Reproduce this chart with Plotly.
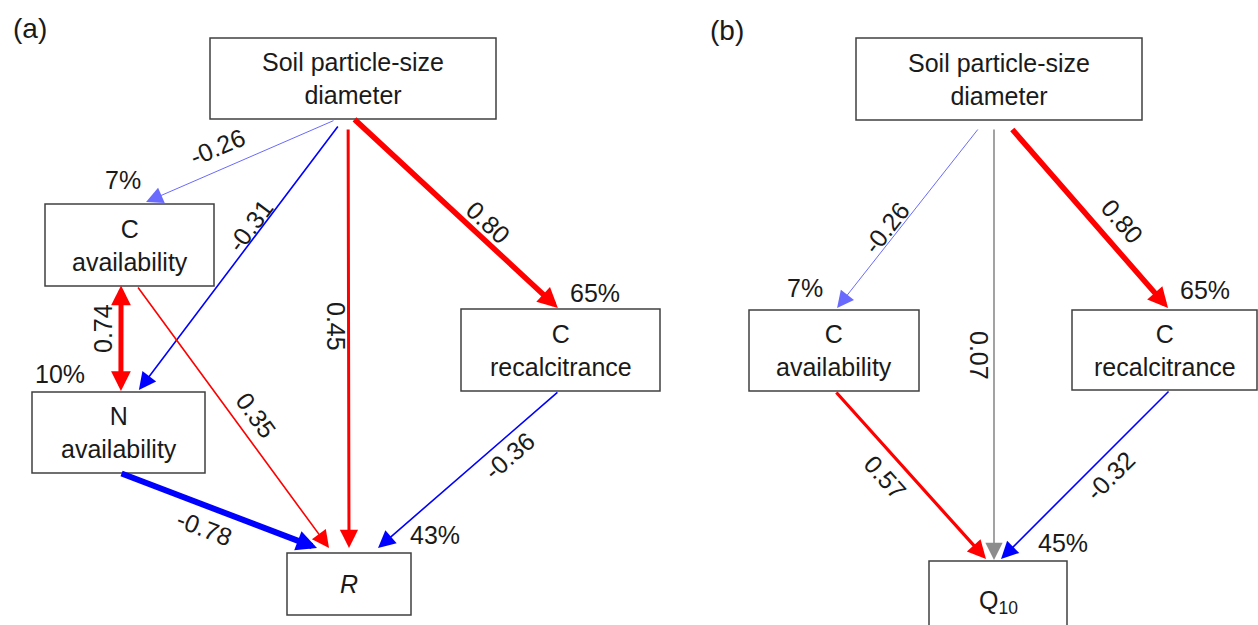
import math
import plotly.graph_objects as go

# ---------------- data ----------------
panel_labels = ["(a)", "(b)"]

# panel (a)
nodes_a = ["soil", "cav", "nav", "crec", "R"]
node_text_a = ["Soil particle-size<br>diameter", "C<br>availability", "N<br>availability",
               "C<br>recalcitrance", "<i>R</i>"]
r2_a = ["", "7%", "10%", "65%", "43%"]
edge_src_a = ["soil", "soil", "soil", "soil", "cav", "cav", "nav", "crec"]
edge_dst_a = ["cav", "nav", "R", "crec", "nav", "R", "R", "R"]
coef_a = [-0.26, -0.31, 0.45, 0.80, 0.74, 0.35, -0.78, -0.36]

# panel (b)
nodes_b = ["soil", "cav", "crec", "Q"]
node_text_b = ["Soil particle-size<br>diameter", "C<br>availability", "C<br>recalcitrance",
               "Q<sub>10</sub>"]
r2_b = ["", "7%", "65%", "45%"]
edge_src_b = ["soil", "soil", "soil", "cav", "crec"]
edge_dst_b = ["cav", "Q", "crec", "Q", "Q"]
coef_b = [-0.26, 0.07, 0.80, 0.57, -0.32]

# ---------------- layout (positions / styles) ----------------
W, H = 1258, 625
FONT = "Liberation Sans, Arial, sans-serif"
TXT = "#1a1a1a"
FS = 25

boxes_a = {"soil": (210, 38, 496, 119), "cav": (45, 204, 214, 286), "nav": (32, 392, 205, 473),
           "crec": (461, 309, 660, 391), "R": (287, 553, 411, 615)}
boxes_b = {"soil": (856, 38, 1142, 120), "cav": (749, 310, 919, 391),
           "crec": (1072, 310, 1257, 390), "Q": (929, 561, 1067, 643)}

# (fraction along source bottom, gap below, fraction along target top, gap above)
anch_a = [(0.437, 1, 0.598, 2), (0.451, 6, 0.618, 2), (0.483, 9, 0.50, 5), (0.50, -1, 0.487, 1),
          (0.45, -2, 0.514, 1), (0.544, 0, 0.339, 5), (0.509, 0, 0.242, 5), (0.492, 0, 0.734, 5)]
anch_b = [(0.43, 8, 0.518, 2), (0.4825, 8, 0.471, 1), (0.542, 8, 0.519, 2),
          (0.506, 0, 0.413, 2), (0.53, 0, 0.522, 2)]

RED, BLUE, LBLUE, GRAY = "#ff0000", "#0000ff", "#6a6aff", "#8c8c8c"
col_a = [LBLUE, BLUE, RED, RED, RED, RED, BLUE, BLUE]
wid_a = [1, 1.6, 3, 5.5, 5, 1.6, 6, 1.6]
both_a = [False, False, False, False, True, False, False, False]
col_b = [LBLUE, GRAY, RED, RED, BLUE]
wid_b = [1, 1.6, 5.5, 3.2, 1.6]
both_b = [False] * 5

lab_a = [(217, 147), (250, 226), (336, 326), (488, 222), (103, 329), (256, 415), (204, 528), (509, 456)]
lab_b = [(886, 228), (979, 355), (1122, 221), (885, 477), (1110, 476)]
r2pos_a = [None, (123, 180), (60, 374), (595, 293), (435, 535)]
r2pos_b = [None, (805, 288), (1205, 290), (1063, 543)]
panel_pos = [(30, 28), (727, 30)]

fig = go.Figure()
fig.add_trace(go.Scatter(x=[0, W], y=[0, H], mode="markers", marker=dict(opacity=0),
                         hoverinfo="skip", showlegend=False))

shapes, anns = [], []


def fmt(v):
    return f"{v:.2f}"


def build(nodes, texts, r2, src, dst, coefs, boxes, anch, cols, wids, both, labs, r2pos):
    for n, t, r, rp in zip(nodes, texts, r2, r2pos):
        x0, y0, x1, y1 = boxes[n]
        shapes.append(dict(type="rect", xref="x", yref="y", x0=x0, y0=y0, x1=x1, y1=y1,
                           line=dict(color="#404040", width=1.5), fillcolor="white", layer="below"))
        anns.append(dict(x=(x0 + x1) / 2, y=(y0 + y1) / 2, xref="x", yref="y", text=t,
                         showarrow=False, font=dict(family=FONT, size=FS, color=TXT),
                         xanchor="center", yanchor="middle"))
        if r:
            anns.append(dict(x=rp[0], y=rp[1], xref="x", yref="y", text=r, showarrow=False,
                             font=dict(family=FONT, size=FS, color=TXT),
                             xanchor="center", yanchor="middle"))
    for s, d, c, a, col, w, b, lp in zip(src, dst, coefs, anch, cols, wids, both, labs):
        sb, db = boxes[s], boxes[d]
        sx = sb[0] + a[0] * (sb[2] - sb[0])
        sy = sb[3] + a[1]
        ex = db[0] + a[2] * (db[2] - db[0])
        ey = db[1] - a[3]
        hs = 3.2 + 0.15 * w
        anns.append(dict(x=ex, y=ey, ax=sx, ay=sy, xref="x", yref="y", axref="x", ayref="y",
                         text="", showarrow=True, arrowhead=2, arrowsize=hs / w, arrowwidth=w,
                         arrowcolor=col, standoff=0, startstandoff=0,
                         arrowside="end+start" if b else "end",
                         startarrowhead=2, startarrowsize=hs / w))
        ang = math.degrees(math.atan2(ey - sy, ex - sx))
        if ang > 80:
            ang -= 180
        if ang < -90:
            ang += 180
        if abs(ang + 90) < 3:
            ang = -90
        anns.append(dict(x=lp[0], y=lp[1], xref="x", yref="y", text=fmt(c), showarrow=False,
                         textangle=round(ang), font=dict(family=FONT, size=FS, color=TXT),
                         xanchor="center", yanchor="middle"))


build(nodes_a, node_text_a, r2_a, edge_src_a, edge_dst_a, coef_a, boxes_a, anch_a,
      col_a, wid_a, both_a, lab_a, r2pos_a)
build(nodes_b, node_text_b, r2_b, edge_src_b, edge_dst_b, coef_b, boxes_b, anch_b,
      col_b, wid_b, both_b, lab_b, r2pos_b)

for lbl, p in zip(panel_labels, panel_pos):
    anns.append(dict(x=p[0], y=p[1], xref="x", yref="y", text=lbl, showarrow=False,
                     font=dict(family=FONT, size=28, color=TXT), xanchor="center", yanchor="middle"))

fig.update_layout(
    width=W, height=H, margin=dict(l=0, r=0, t=0, b=0),
    paper_bgcolor="white", plot_bgcolor="white",
    xaxis=dict(range=[0, W], visible=False, fixedrange=True),
    yaxis=dict(range=[H, 0], visible=False, fixedrange=True),
    shapes=shapes, annotations=anns, showlegend=False,
)
fig.write_html("out.html", config={"displayModeBar": False},
               post_script="document.body.style.margin='0';")
